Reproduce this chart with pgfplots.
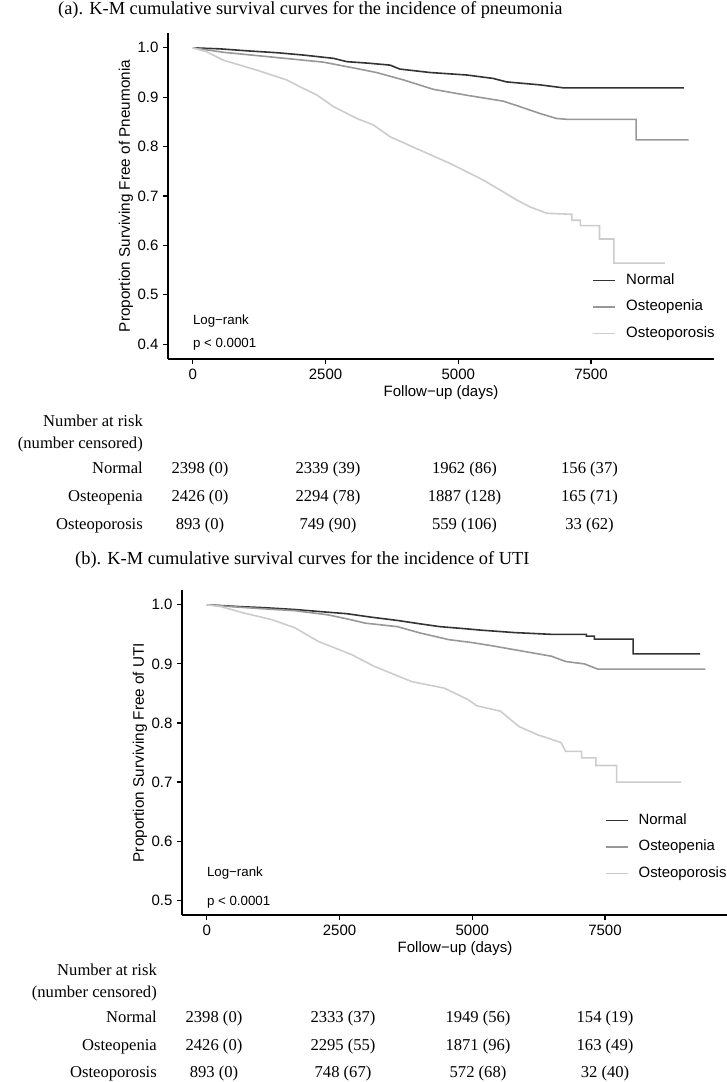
\documentclass[border=0pt]{standalone}
\usepackage{fontspec}
\setmainfont{Liberation Serif}
\setsansfont{Liberation Sans}
\newfontfamily\hv{Liberation Sans}
\usepackage{pgfplots}
\pgfplotsset{compat=1.18}
\definecolor{cN}{HTML}{333333}
\definecolor{cP}{HTML}{989898}
\definecolor{cO}{HTML}{CCCCCC}

\pgfplotsset{kmstyle/.style={
  scale only axis, width=546pt, height=326pt,
  xmin=-467.5, xmax=9817.5,
  axis lines*=left,
  axis line style={line width=1.2pt, black},
  tick align=outside, major tick length=5pt,
  tick style={line width=1.2pt, black},
  xtick={0,2500,5000,7500}, xticklabels={0,2500,5000,7500},
  ticklabel style={font=\hv\fontsize{15}{15}\selectfont, text=black},
  xticklabel style={yshift=-1pt},
  yticklabel style={xshift=-1pt},
  xlabel={Follow−up (days)},
  every axis x label/.style={at={(axis description cs:0.5,-0.104)}, anchor=center,
     font=\hv\fontsize{15}{15}\selectfont},
  every axis y label/.style={at={(axis description cs:-0.077,0.5)}, anchor=center, rotate=90,
     font=\hv\fontsize{15.3}{15.3}\selectfont},
  legend style={draw=none, fill=none, inner sep=0pt, outer sep=0pt,
     font=\hv\fontsize{15}{15}\selectfont,
     nodes={inner sep=0pt, text height=11pt, text depth=3pt},
     column sep=10.5pt, row sep=12.5pt},
  legend cell align=left,
  legend image code/.code={\draw[#1, line width=1.7pt] (0pt,0pt) -- (22pt,0pt);},
  every axis plot/.append style={line width=1.6pt, sharp plot},
}}

\begin{document}
\begin{tikzpicture}[x=1pt,y=1pt]
\useasboundingbox (0,0) rectangle (727,-1082);

% ---------------- Panel (a) ----------------
\node[anchor=west, inner sep=0pt, font=\fontsize{18.4}{18.4}\selectfont] at (58,-9.5)
  {(a). K-M cumulative survival curves for the incidence of pneumonia};

\begin{axis}[kmstyle,
  at={(168pt,-359pt)}, anchor=south west,
  ymin=0.37, ymax=1.03,
  ytick={0.4,0.5,0.6,0.7,0.8,0.9,1.0},
  yticklabels={0.4,0.5,0.6,0.7,0.8,0.9,1.0},
  ylabel={Proportion Surviving Free of Pneumonia},
  legend style={at={(rel axis cs:0.7766,0.2626)}, anchor=north west},
]
\addplot[cN] table[row sep=\\] {
x y\\
0 1.000\\ 500 0.998\\ 1080 0.9935\\ 1600 0.990\\ 2080 0.9854\\ 2650 0.9787\\
2900 0.972\\ 3300 0.969\\ 3715 0.965\\ 3900 0.957\\ 4470 0.950\\ 5160 0.945\\
5660 0.938\\ 5910 0.931\\ 6540 0.925\\ 6980 0.919\\ 9250 0.919\\
};
\addlegendentry{Normal}
\addplot[cP] table[row sep=\\] {
x y\\
0 1.000\\ 575 0.991\\ 1520 0.981\\ 2460 0.971\\ 3090 0.958\\ 3460 0.950\\
3970 0.935\\ 4530 0.916\\ 5160 0.904\\ 5850 0.892\\ 6160 0.881\\ 6540 0.867\\
6850 0.857\\ 7075 0.855\\ 8350 0.855\\ 8350 0.8135\\ 9340 0.8135\\
};
\addlegendentry{Osteopenia}
\addplot[cO] table[row sep=\\] {
x y\\
0 1.000\\ 260 0.992\\ 575 0.975\\ 1200 0.955\\ 1770 0.935\\ 2020 0.921\\
2330 0.905\\ 2650 0.881\\ 3090 0.857\\ 3400 0.844\\ 3715 0.820\\ 4340 0.790\\
4845 0.766\\ 5160 0.749\\ 5475 0.732\\ 5790 0.712\\ 6100 0.692\\ 6350 0.678\\
6670 0.665\\ 7140 0.663\\ 7140 0.651\\ 7300 0.651\\ 7300 0.640\\ 7660 0.640\\
7660 0.613\\ 7930 0.613\\ 7930 0.564\\ 8890 0.564\\
};
\addlegendentry{Osteoporosis}
\node[anchor=west, inner sep=0pt, font=\hv\fontsize{13.3}{13.3}\selectfont] at (axis cs:0,0.447) {Log−rank};
\node[anchor=west, inner sep=0pt, font=\hv\fontsize{13.3}{13.3}\selectfont] at (axis cs:0,0.400) {p < 0.0001};
\end{axis}

% risk table (a)
\begin{scope}[every node/.style={inner sep=0pt, font=\fontsize{16.6}{16.6}\selectfont}]
\node[anchor=base east] at (143,-426.5) {Number at risk};
\node[anchor=base east] at (143,-448.5) {(number censored)};
\node[anchor=base east] at (143,-473.5) {Normal};
\node[anchor=base east] at (143,-501.5) {Osteopenia};
\node[anchor=base east] at (143,-529.5) {Osteoporosis};
\node[anchor=base] at (200,-473.5) {2398 (0)};
\node[anchor=base] at (328,-473.5) {2339 (39)};
\node[anchor=base] at (464.5,-473.5) {1962 (86)};
\node[anchor=base] at (589.5,-473.5) {156 (37)};
\node[anchor=base] at (200,-501.5) {2426 (0)};
\node[anchor=base] at (328,-501.5) {2294 (78)};
\node[anchor=base] at (464.5,-501.5) {1887 (128)};
\node[anchor=base] at (589.5,-501.5) {165 (71)};
\node[anchor=base] at (200,-529.5) {893 (0)};
\node[anchor=base] at (328,-529.5) {749 (90)};
\node[anchor=base] at (464.5,-529.5) {559 (106)};
\node[anchor=base] at (589.5,-529.5) {33 (62)};
\end{scope}

% ---------------- Panel (b) ----------------
\node[anchor=west, inner sep=0pt, font=\fontsize{18.4}{18.4}\selectfont] at (75,-560)
  {(b). K-M cumulative survival curves for the incidence of UTI};

\begin{axis}[kmstyle,
  at={(182pt,-915pt)}, anchor=south west, height=325pt,
  ymin=0.475, ymax=1.025,
  ytick={0.5,0.6,0.7,0.8,0.9,1.0},
  yticklabels={0.5,0.6,0.7,0.8,0.9,1.0},
  ylabel={Proportion Surviving Free of UTI},
  legend style={at={(rel axis cs:0.7747,0.3126)}, anchor=north west,
     font=\hv\fontsize{14.9}{14.9}\selectfont, column sep=10pt},
]
\addplot[cN] table[row sep=\\] {
x y\\
0 1.000\\ 600 0.997\\ 1100 0.995\\ 1660 0.992\\ 2200 0.988\\ 2630 0.985\\
3100 0.979\\ 3590 0.9735\\ 4000 0.968\\ 4390 0.963\\ 4800 0.960\\ 5180 0.957\\
5790 0.953\\ 6490 0.950\\ 7150 0.950\\ 7150 0.947\\ 7300 0.947\\ 7300 0.942\\
8030 0.942\\ 8030 0.917\\ 9290 0.917\\
};
\addlegendentry{Normal}
\addplot[cP] table[row sep=\\] {
x y\\
0 1.000\\ 600 0.996\\ 1100 0.993\\ 1660 0.990\\ 2280 0.983\\ 2700 0.975\\
2980 0.969\\ 3590 0.963\\ 4030 0.952\\ 4560 0.941\\ 5000 0.936\\ 5350 0.931\\
5790 0.924\\ 6490 0.913\\ 6760 0.904\\ 7110 0.900\\ 7370 0.891\\ 9390 0.891\\
};
\addlegendentry{Osteopenia}
\addplot[cO] table[row sep=\\] {
x y\\
0 1.000\\ 260 0.997\\ 700 0.986\\ 1220 0.975\\ 1660 0.961\\ 2100 0.938\\
2720 0.916\\ 3150 0.896\\ 3860 0.870\\ 4470 0.859\\ 4910 0.840\\ 5090 0.829\\
5530 0.820\\ 5880 0.794\\ 6230 0.780\\ 6670 0.767\\ 6760 0.752\\ 7060 0.752\\
7060 0.741\\ 7330 0.741\\ 7330 0.728\\ 7720 0.728\\ 7720 0.700\\ 8930 0.700\\
};
\addlegendentry{Osteoporosis}
\node[anchor=west, inner sep=0pt, font=\hv\fontsize{13.3}{13.3}\selectfont] at (axis cs:0,0.546) {Log−rank};
\node[anchor=west, inner sep=0pt, font=\hv\fontsize{13.3}{13.3}\selectfont] at (axis cs:0,0.497) {p < 0.0001};
\end{axis}

% risk table (b)
\begin{scope}[every node/.style={inner sep=0pt, font=\fontsize{16.6}{16.6}\selectfont}]
\node[anchor=base east] at (157,-975.5) {Number at risk};
\node[anchor=base east] at (157,-997.5) {(number censored)};
\node[anchor=base east] at (157,-1022.5) {Normal};
\node[anchor=base east] at (157,-1050.5) {Osteopenia};
\node[anchor=base east] at (157,-1077.5) {Osteoporosis};
\node[anchor=base] at (214,-1022.5) {2398 (0)};
\node[anchor=base] at (343,-1022.5) {2333 (37)};
\node[anchor=base] at (478,-1022.5) {1949 (56)};
\node[anchor=base] at (605,-1022.5) {154 (19)};
\node[anchor=base] at (214,-1050.5) {2426 (0)};
\node[anchor=base] at (343,-1050.5) {2295 (55)};
\node[anchor=base] at (478,-1050.5) {1871 (96)};
\node[anchor=base] at (605,-1050.5) {163 (49)};
\node[anchor=base] at (214,-1077.5) {893 (0)};
\node[anchor=base] at (343,-1077.5) {748 (67)};
\node[anchor=base] at (478,-1077.5) {572 (68)};
\node[anchor=base] at (605,-1077.5) {32 (40)};
\end{scope}
\end{tikzpicture}
\end{document}
